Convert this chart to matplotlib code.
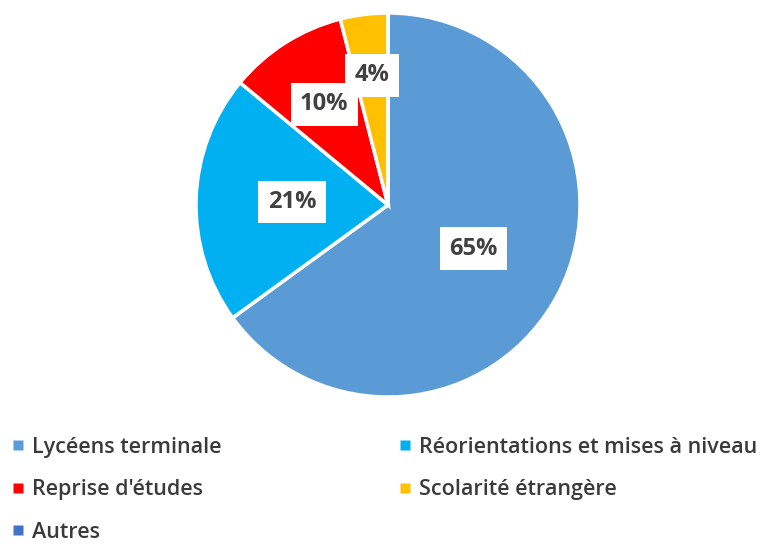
import numpy as np
import matplotlib
matplotlib.use("Agg")
import matplotlib.pyplot as plt
from matplotlib.lines import Line2D

# Data
categories = ["Lycéens terminale", "Réorientations et mises à niveau",
              "Reprise d'études", "Scolarité étrangère", "Autres"]
shares = [65, 21, 10, 4, 0]
colors = ["#5B9BD5", "#00B0F0", "#FF0000", "#FFC000", "#4472C4"]

# label distance from centre (fraction of radius), Excel "best fit" style
label_dist = [0.5, 0.5, 0.62, 0.68, 0.6]

plt.rcParams["font.family"] = ["Open Sans", "DejaVu Sans"]

fig = plt.figure(figsize=(7.79, 5.48), dpi=100)
ax = fig.add_axes([196 / 779, 1 - 397 / 548, 384 / 779, 384 / 548])

wedges, _ = ax.pie(shares, colors=colors, startangle=90, counterclock=False,
                   wedgeprops=dict(edgecolor="white", linewidth=2.5))
ax.set_xlim(-1, 1)
ax.set_ylim(-1, 1)
ax.set_aspect("equal")
ax.axis("off")

# percentage labels in white boxes
for w, val, d in zip(wedges, shares, label_dist):
    if val == 0:
        continue
    ang = np.deg2rad((w.theta1 + w.theta2) / 2)
    ax.text(d * np.cos(ang), d * np.sin(ang), f"{val}%",
            ha="center", va="center", fontsize=17, fontweight="bold",
            color="#404040",
            bbox=dict(boxstyle="square,pad=0.4", fc="white", ec="none"))

# legend, filled row by row
handles = [Line2D([], [], marker="s", linestyle="none", markersize=7,
                  markerfacecolor=c, markeredgecolor="none") for c in colors]
order = [0, 2, 4, 1, 3]
fig.legend([handles[i] for i in order], [categories[i] for i in order],
           ncol=2, loc="upper left", bbox_to_anchor=(-0.01, 0.238),
           frameon=False, labelcolor="#3a3a3a",
           prop=dict(size=15.5, weight="semibold"),
           handlelength=0.6, handletextpad=0.35, columnspacing=8.2,
           labelspacing=1.0)

fig.savefig("out.png", dpi=100, facecolor="white")
